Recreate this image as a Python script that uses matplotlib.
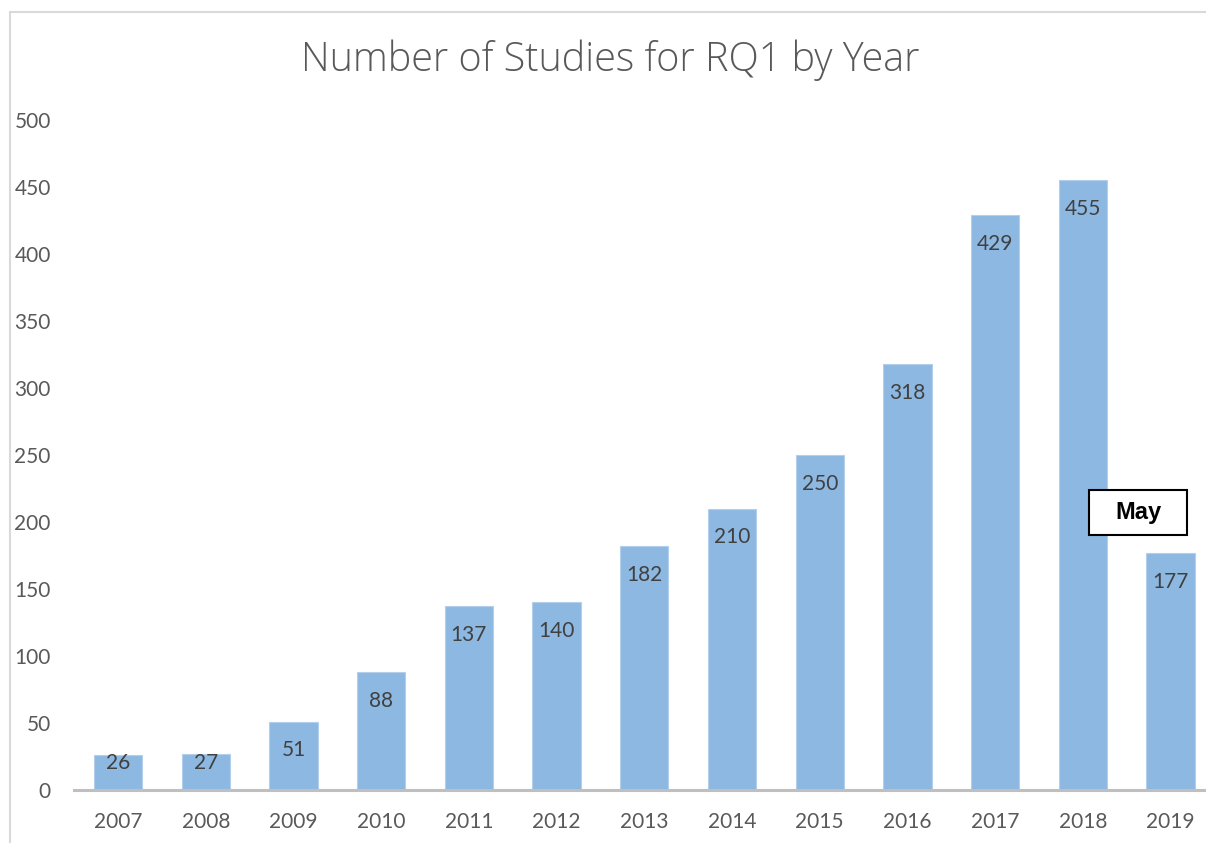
import numpy as np
import matplotlib.pyplot as plt
from matplotlib.patches import Rectangle

years = ['2007', '2008', '2009', '2010', '2011', '2012', '2013',
         '2014', '2015', '2016', '2017', '2018', '2019']
studies = [26, 27, 51, 88, 137, 140, 182, 210, 250, 318, 429, 455, 177]
y_ticks = [0, 50, 100, 150, 200, 250, 300, 350, 400, 450, 500]

bar_color = '#8DB8E1'
text_gray = '#595959'
label_gray = '#404040'

fig = plt.figure(figsize=(12.06, 8.43), dpi=100)
ax = fig.add_axes([0.0616, 0.0629, 0.9453, 0.7948])

# chart area border (only top/left visible in the crop)
fig.patches.append(Rectangle((10 / 1206, -0.1), 1.2, (843 - 12) / 843 + 0.1,
                             transform=fig.transFigure, fill=False,
                             edgecolor='#D9D9D9', linewidth=1.5, zorder=0))

x = np.arange(len(years))
ax.bar(x, studies, width=0.55, color=bar_color, edgecolor='#B3CFEB',
       linewidth=0.8, zorder=2)

for xi, v in zip(x, studies):
    ax.text(xi, max(v - 21.5, 20), str(v), ha='center', va='center',
            fontsize=15, family='Lato', color=label_gray, zorder=3)

# "May" note box next to the last bar
ax.add_patch(Rectangle((11.63 - 0.555, 207 - 16.8), 1.11, 33.6,
                       facecolor='white', edgecolor='black', linewidth=1.5,
                       zorder=4))
ax.text(11.63, 207, 'May', ha='center', va='center', fontsize=17,
        fontweight='bold', family='Liberation Sans', color='black', zorder=5)

ax.set_xlim(-0.5, 12.5)
ax.set_ylim(0, 500)
ax.set_xticks(x)
ax.set_xticklabels(years)
ax.set_yticks(y_ticks)
for lab in ax.get_xticklabels() + ax.get_yticklabels():
    lab.set_family('Lato')
    lab.set_fontsize(15)
    lab.set_color(text_gray)
ax.tick_params(axis='both', length=0)
ax.tick_params(axis='y', pad=17)
ax.tick_params(axis='x', pad=16)

for s in ['top', 'right', 'left']:
    ax.spines[s].set_visible(False)
ax.spines['bottom'].set_color('#BFBFBF')
ax.spines['bottom'].set_linewidth(2.2)
ax.spines['bottom'].set_zorder(3)

fig.text(0.506, 0.929, 'Number of Studies for RQ1 by Year', ha='center',
         va='center', fontsize=28.5, fontweight='light', family='Open Sans',
         color=text_gray)

fig.savefig('out.png', dpi=100)
